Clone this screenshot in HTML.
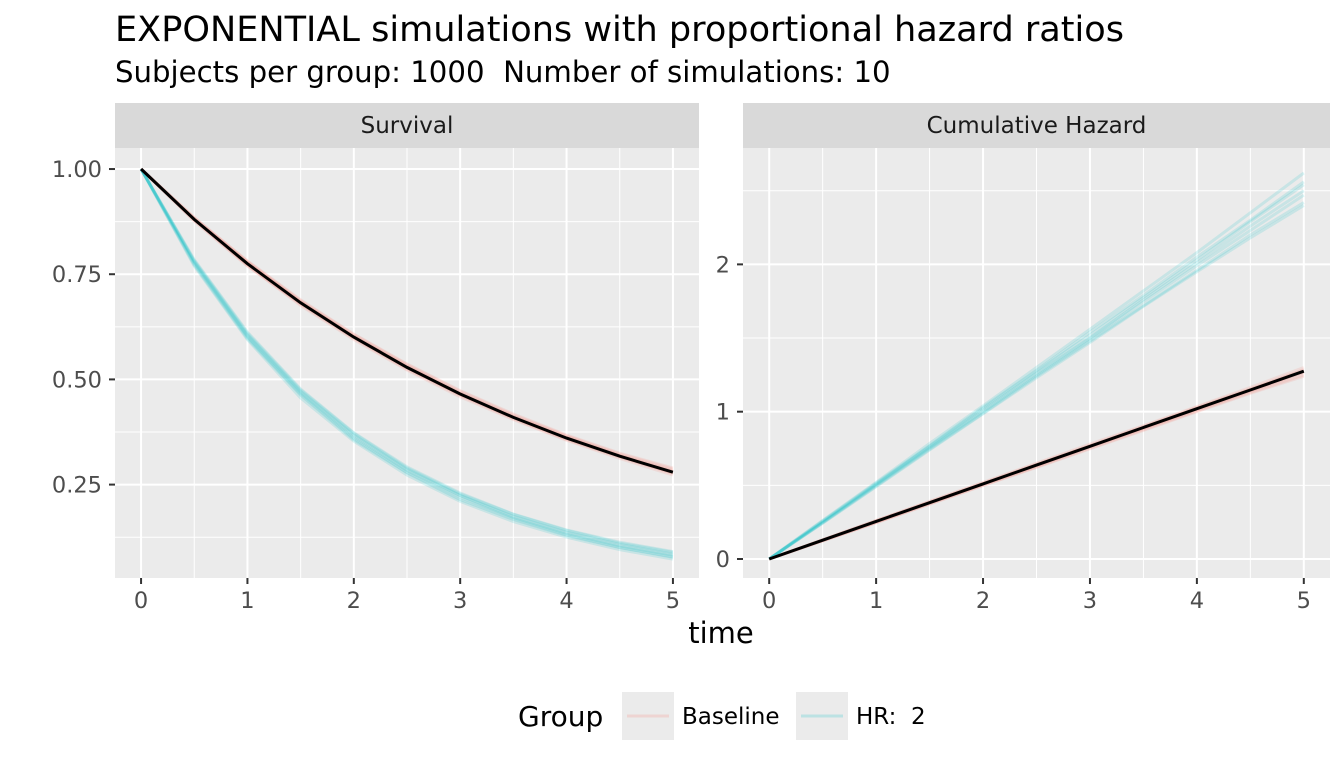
<!DOCTYPE html>
<html><head><meta charset="utf-8"><style>
body{margin:0;background:#fff;}
svg{display:block;font-family:"DejaVu Sans","Liberation Sans",sans-serif;}
</style></head><body>
<svg id="chart" width="1344" height="768">
<text x="115" y="41" font-size="35.1" fill="#000">EXPONENTIAL simulations with proportional hazard ratios</text>
<text x="115" y="82" font-size="29.2" fill="#000" xml:space="preserve">Subjects per group: 1000  Number of simulations: 10</text>
<g id="panels"></g>
<text x="721" y="643" font-size="29" text-anchor="middle" fill="#000">time</text>
<g>
<text x="518" y="726" font-size="28" fill="#000">Group</text>
<rect x="622" y="692" width="52" height="48" fill="#EBEBEB"/>
<line x1="627" y1="716" x2="669" y2="716" stroke="#F8766D" stroke-opacity="0.2" stroke-width="3"/>
<text x="682" y="724" font-size="23" fill="#000">Baseline</text>
<rect x="796" y="692" width="52" height="48" fill="#EBEBEB"/>
<line x1="801" y1="716" x2="843" y2="716" stroke="#00BFC4" stroke-opacity="0.2" stroke-width="3"/>
<text x="856" y="724" font-size="23" fill="#000" xml:space="preserve">HR:  2</text>
</g>
</svg>
<script>
const times = [0,0.5,1,1.5,2,2.5,3,3.5,4,4.5,5];
const baselineSims = [
[0,0.125,0.252,0.380,0.505,0.630,0.760,0.885,1.010,1.140,1.265],
[0,0.130,0.258,0.388,0.515,0.645,0.772,0.900,1.030,1.155,1.285],
[0,0.122,0.248,0.375,0.500,0.625,0.752,0.878,1.005,1.130,1.250],
[0,0.128,0.260,0.392,0.520,0.650,0.780,0.905,1.035,1.165,1.300],
[0,0.126,0.250,0.378,0.508,0.635,0.765,0.890,1.018,1.145,1.270],
[0,0.132,0.262,0.385,0.512,0.640,0.768,0.895,1.025,1.150,1.280],
[0,0.124,0.246,0.372,0.498,0.622,0.748,0.872,1.000,1.125,1.240]
];
const hrSims = [
[0,0.250,0.505,0.760,1.010,1.260,1.500,1.760,2.010,2.260,2.500],
[0,0.262,0.520,0.785,1.040,1.300,1.560,1.820,2.080,2.350,2.620],
[0,0.245,0.495,0.745,0.990,1.240,1.480,1.720,1.960,2.200,2.420],
[0,0.258,0.515,0.770,1.030,1.280,1.540,1.790,2.050,2.300,2.560],
[0,0.248,0.500,0.752,1.000,1.250,1.495,1.745,1.990,2.230,2.470],
[0,0.255,0.510,0.765,1.020,1.275,1.520,1.775,2.030,2.290,2.540],
[0,0.242,0.490,0.740,0.985,1.230,1.470,1.715,1.950,2.180,2.400]
];
const trueCumHaz = [0,0.1275,0.255,0.3825,0.51,0.6375,0.765,0.8925,1.02,1.1475,1.275];
const survTicks = [0.25,0.50,0.75,1.00];
const survTickLabels = ["0.25","0.50","0.75","1.00"];
const hazTicks = [0,1,2];
const hazTickLabels = ["0","1","2"];
const xTicks = [0,1,2,3,4,5];

const NS="http://www.w3.org/2000/svg";
const root=document.getElementById('panels');
function mk(tag,attrs,parent){const e=document.createElementNS(NS,tag);for(const k in attrs)e.setAttribute(k,attrs[k]);(parent||root).appendChild(e);return e;}

function panel(cfg){
  const g=mk('g',{});
  
  
  const {x0,x1,y0,y1}=cfg;
  const sx=v=>x0+(v-(-0.245))/(5.49)*(x1-x0);
  const sy=v=>y1-(v-cfg.ymin)/(cfg.ymax-cfg.ymin)*(y1-y0);
  const strip=mk('rect',{x:x0,y:103,width:x1-x0,height:45,fill:'#D9D9D9'},g);
  
  
  const st=mk('text',{x:(x0+x1)/2,y:133,'font-size':23,'text-anchor':'middle',fill:'#1A1A1A'},g);
  st.textContent=cfg.title;
  
  
  const bg=mk('rect',{x:x0,y:y0,width:x1-x0,height:y1-y0,fill:'#EBEBEB'},g);
  
  
  for(let i=0;i<xTicks.length-1;i++){const v=(xTicks[i]+xTicks[i+1])/2;mk('line',{x1:sx(v),x2:sx(v),y1:y0,y2:y1,stroke:'#fff','stroke-width':1},g);}
  cfg.minor.forEach(v=>mk('line',{x1:x0,x2:x1,y1:sy(v),y2:sy(v),stroke:'#fff','stroke-width':1},g));
  xTicks.forEach(v=>{
    mk('line',{x1:sx(v),x2:sx(v),y1:y0,y2:y1,stroke:'#fff','stroke-width':2},g);
    mk('line',{x1:sx(v),x2:sx(v),y1:y1,y2:y1+6,stroke:'#333','stroke-width':2},g);
    const t=mk('text',{x:sx(v),y:y1+30,'font-size':22.5,'text-anchor':'middle',fill:'#4D4D4D'},g);
    t.textContent=String(v);
    
    
  });
  cfg.ticks.forEach((v,i)=>{
    mk('line',{x1:x0,x2:x1,y1:sy(v),y2:sy(v),stroke:'#fff','stroke-width':2},g);
    mk('line',{x1:x0-6,x2:x0,y1:sy(v),y2:sy(v),stroke:'#333','stroke-width':2},g);
    const t=mk('text',{x:x0-13,y:sy(v)+8,'font-size':22.5,'text-anchor':'end',fill:'#4D4D4D'},g);
    t.textContent=cfg.labels[i];
    
    
  });
  const path=arr=>arr.map((h,i)=>(i?'L':'M')+sx(times[i]).toFixed(1)+','+sy(cfg.f(h)).toFixed(1)).join('');
  baselineSims.forEach(s=>{const p=mk('path',{d:path(s),fill:'none',stroke:'#F8766D','stroke-opacity':0.15,'stroke-width':3},g);
    
    });
  hrSims.forEach(s=>{const p=mk('path',{d:path(s),fill:'none',stroke:'#00BFC4','stroke-opacity':0.15,'stroke-width':3},g);
    
    });
  const tl=mk('path',{d:path(trueCumHaz),fill:'none',stroke:'#000','stroke-width':3},g);
  
  
}
panel({name:'survival-panel',title:'Survival',x0:115,x1:699,y0:148,y1:578,ymin:0.028,ymax:1.05,
  ticks:survTicks,labels:survTickLabels,minor:[0.125,0.375,0.625,0.875],f:h=>Math.exp(-h)});
panel({name:'cumhaz-panel',title:'Cumulative Hazard',x0:743,x1:1330,y0:148,y1:578,ymin:-0.129,ymax:2.79,
  ticks:hazTicks,labels:hazTickLabels,minor:[0.5,1.5,2.5],f:h=>h});
</script>
</body></html>
